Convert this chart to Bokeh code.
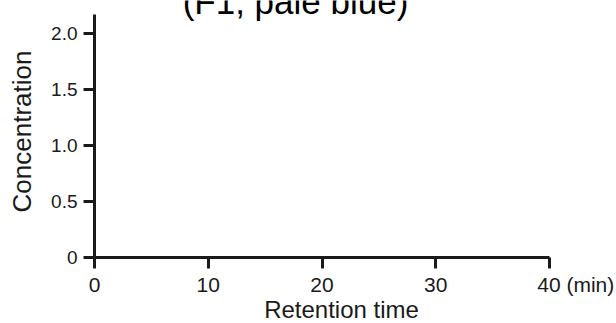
import math
from bokeh.plotting import figure
from bokeh.models import Range1d, FixedTicker, Label
from bokeh.embed import file_html
from bokeh.resources import INLINE

# ---- data (the chart is an empty frame: axes only) ----
x_ticks = [0, 10, 20, 30, 40]
y_ticks = [0, 0.5, 1.0, 1.5, 2.0]
y_tick_labels = ["0", "0.5", "1.0", "1.5", "2.0"]
x_tick_labels = ["0", "10", "20", "30", "40"]
x_unit = "(min)"
title_text = "(F1, pale blue)"
x_title = "Retention time"
y_title = "Concentration"
x_max = 40
y_max = 2.17

FONT = "Liberation Sans"
INK = "#1a1a1a"
W, H = 616, 323
X0_PX, Y0_PX = 94, 257          # where x=0 / y=0 sit on the canvas
PX_PER_X = (549 - X0_PX) / x_max
PX_PER_Y = (Y0_PX - 14) / y_max

def dx(px):
    return (px - X0_PX) / PX_PER_X

def dy(py):
    return (Y0_PX - py) / PX_PER_Y

# the frame fills the canvas; axes are pinned at 0 and bounded
p = figure(width=W, height=H, output_backend="svg", toolbar_location=None,
           x_range=Range1d(dx(0), dx(W)), y_range=Range1d(dy(H), dy(0)),
           min_border_left=0, min_border_right=0, min_border_top=0,
           min_border_bottom=0)
p.outline_line_color = None
p.grid.visible = False
p.background_fill_color = "white"
p.border_fill_color = "white"

for ax in (p.xaxis[0], p.yaxis[0]):
    ax.fixed_location = 0
    ax.axis_line_width = 3
    ax.axis_line_color = INK
    ax.major_tick_line_width = 3
    ax.major_tick_line_color = INK
    ax.major_tick_in = 0
    ax.major_tick_out = 11
    ax.minor_tick_line_color = None
    ax.major_label_text_font = FONT
    ax.major_label_text_color = INK

NB = "\u00a0"
x_over = {t: s for t, s in zip(x_ticks, x_tick_labels)}
# keep "40" centred on its tick while "(min)" trails it
x_over[x_ticks[-1]] = NB * 9 + x_tick_labels[-1] + NB + x_unit
p.xaxis.ticker = FixedTicker(ticks=x_ticks)
p.xaxis.major_label_overrides = x_over
p.xaxis.major_label_text_font_size = "21px"
p.xaxis.major_label_standoff = 4
p.xaxis.bounds = (0, x_max)

p.yaxis.ticker = FixedTicker(ticks=y_ticks)
p.yaxis.major_label_overrides = {t: s for t, s in zip(y_ticks, y_tick_labels)}
p.yaxis.major_label_text_font_size = "19px"
p.yaxis.major_label_standoff = 6
p.yaxis.bounds = (0, y_max)

SHIFT = 0.41  # empirical baseline shift (em) of Label text in this backend

p.add_layout(Label(x=dx(341), y=dy(319 - SHIFT * 24), text=x_title,
                   text_font=FONT, text_font_size="24px", text_color=INK,
                   text_align="center", text_baseline="alphabetic"))
p.add_layout(Label(x=dx(32 - SHIFT * 26), y=dy(131), text=y_title,
                   text_font=FONT, text_font_size="26px", text_color=INK,
                   angle=math.pi / 2, text_align="center",
                   text_baseline="alphabetic"))
p.add_layout(Label(x=dx(295), y=dy(15 - SHIFT * 35), text=title_text,
                   text_font=FONT, text_font_size="35px", text_color="#000000",
                   text_align="center", text_baseline="alphabetic"))

open("out.html", "w").write(file_html(p, INLINE))
